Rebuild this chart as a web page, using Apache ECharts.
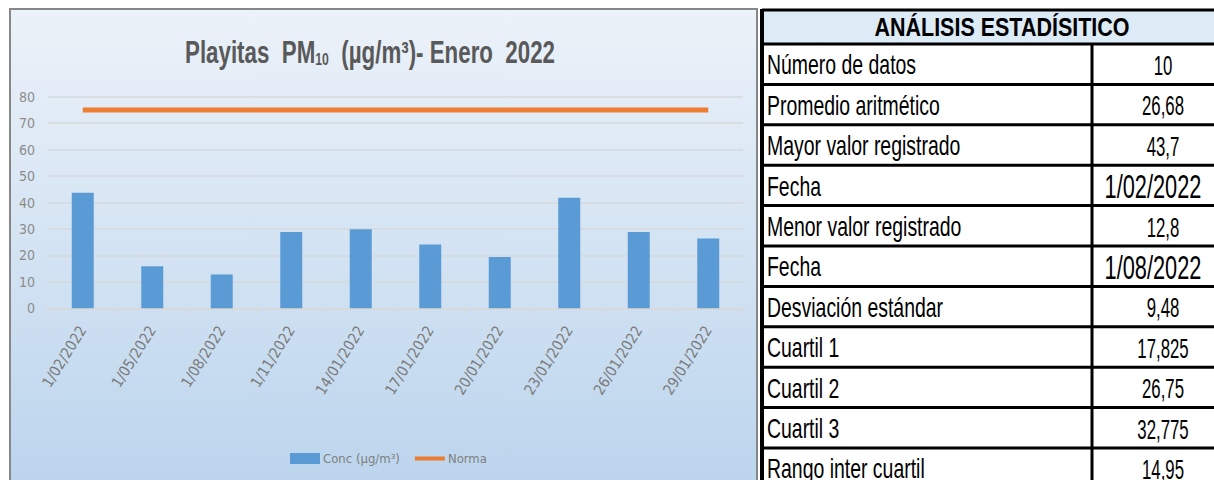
<!DOCTYPE html>
<html>
<head>
<meta charset="utf-8">
<script src="https://cdn.jsdelivr.net/npm/echarts@6/dist/echarts.min.js"></script>
<style>
html,body{margin:0;padding:0;background:#ffffff;}
#c{width:1214px;height:480px;}
</style>
</head>
<body>
<div id="c"></div>
<script>
// ---- data ----
const categories = ['1/02/2022','1/05/2022','1/08/2022','1/11/2022','14/01/2022','17/01/2022','20/01/2022','23/01/2022','26/01/2022','29/01/2022'];
const concValues = [43.7, 15.9, 12.8, 28.8, 29.9, 24.1, 19.4, 41.8, 28.8, 26.4];
const normaValues = [75, 75, 75, 75, 75, 75, 75, 75, 75, 75];
const seriesNames = ['Conc (µg/m³)', 'Norma'];
const titleParts = ['Playitas  PM', '10', '  (µg/m³)- Enero  2022'];
const tableTitle = 'ANÁLISIS ESTADÍSITICO';
const statLabels = ['Número de datos','Promedio aritmético','Mayor valor registrado','Fecha','Menor valor registrado','Fecha','Desviación estándar','Cuartil 1','Cuartil 2','Cuartil 3','Rango inter cuartil'];
const statValues = ['10','26,68','43,7','1/02/2022','12,8','1/08/2022','9,48','17,825','26,75','32,775','14,95'];

// ---- layout / style ----
const NARROW = '"Liberation Sans Narrow","Arial Narrow","DejaVu Sans Condensed","Liberation Sans",sans-serif';
const SANS = '"Liberation Sans",Arial,sans-serif';
const tblLeft = 762, tblRight = 1214, colX = 1092;
const headTop = 9, headBottom = 44, rowH = 40.4;

const graphics = [];
// chart frame with gradient background
graphics.push({
  type: 'rect', z: -10, silent: true,
  shape: { x: 10, y: 9, width: 747, height: 500 },
  style: {
    fill: { type: 'linear', x: 0, y: 0, x2: 0, y2: 1, colorStops: [
      { offset: 0, color: '#ECF2F9' }, { offset: 1, color: '#B9D3EC' } ] },
    stroke: '#878787', lineWidth: 2
  }
});
// chart title
graphics.push({
  type: 'text', z: 10, silent: true, x: 370, y: 50, scaleX: 0.72,
  style: {
    x: 0, y: 0, align: 'center', verticalAlign: 'middle',
    text: '{a|' + titleParts[0] + '}{s|' + titleParts[1] + '}{a|' + titleParts[2] + '}',
    rich: {
      a: { fontFamily: SANS, fontSize: 31, fontWeight: 'bold', fill: '#595959', lineHeight: 36, verticalAlign: 'bottom' },
      s: { fontFamily: SANS, fontSize: 17, fontWeight: 'bold', fill: '#595959', lineHeight: 24, verticalAlign: 'bottom' }
    }
  }
});
// table background
graphics.push({ type: 'rect', z: 5, silent: true, shape: { x: tblLeft, y: headTop, width: tblRight - tblLeft, height: 480 - headTop }, style: { fill: '#ffffff' } });
graphics.push({ type: 'rect', z: 6, silent: true, shape: { x: tblLeft, y: headTop, width: tblRight - tblLeft, height: headBottom - headTop }, style: { fill: '#DDEBF7' } });
// horizontal lines
const hLines = [headTop + 1];
for (let i = 0; i <= statLabels.length; i++) hLines.push(headBottom + i * rowH);
hLines.forEach(function (yy) {
  graphics.push({ type: 'line', z: 8, silent: true, shape: { x1: tblLeft, y1: yy, x2: tblRight, y2: yy }, style: { stroke: '#000', lineWidth: 3 } });
});
// vertical lines
graphics.push({ type: 'line', z: 8, silent: true, shape: { x1: tblLeft, y1: headTop, x2: tblLeft, y2: 480 }, style: { stroke: '#000', lineWidth: 4 } });
graphics.push({ type: 'line', z: 8, silent: true, shape: { x1: colX, y1: headBottom, x2: colX, y2: 480 }, style: { stroke: '#000', lineWidth: 3 } });
// header text
graphics.push({ type: 'text', z: 9, silent: true, x: 1002, y: 27, scaleX: 0.86,
  style: { x: 0, y: 0, text: tableTitle, align: 'center', verticalAlign: 'middle', fontFamily: SANS, fontWeight: 'bold', fontSize: 25, fill: '#000' } });
// rows
statLabels.forEach(function (lab, i) {
  const cy = headBottom + i * rowH + rowH / 2 + 1;
  graphics.push({ type: 'text', z: 9, silent: true, x: 767, y: cy, scaleX: 0.72,
    style: { x: 0, y: 0, text: lab, align: 'left', verticalAlign: 'middle', fontFamily: SANS, fontSize: 27, fill: '#000' } });
  const v = statValues[i];
  const isDate = v.indexOf('/') >= 0;
  graphics.push({ type: 'text', z: 9, silent: true, x: isDate ? 1153 : 1163, y: cy, scaleX: isDate ? 0.64 : 0.6,
    style: { x: 0, y: 0, text: v, align: 'center', verticalAlign: 'middle', fontFamily: SANS, fontSize: isDate ? 34 : 28, fill: '#000' } });
});

const chart = echarts.init(document.getElementById('c'), null, { renderer: 'svg' });
chart.setOption({
  animation: false,
  backgroundColor: 'transparent',
  graphic: graphics,
  grid: { left: 48, right: 471, top: 96.7, bottom: 171.7, containLabel: false },
  legend: {
    left: 285, top: 447, itemWidth: 30, itemHeight: 11, itemGap: 15,
    textStyle: { fontFamily: NARROW, fontSize: 13, color: '#7F7F7F', padding: [0, 0, 0, -2] },
    data: [
      { name: seriesNames[0], icon: 'rect' },
      { name: seriesNames[1], icon: 'path://M0,0L30,0L30,4L0,4Z', itemStyle: { color: '#ED7D31' } }
    ]
  },
  xAxis: {
    type: 'category', data: categories,
    axisLine: { lineStyle: { color: '#D9D9D9', width: 1.5 } },
    axisTick: { show: true, length: 5, lineStyle: { color: '#D9D9D9', width: 1.5 } },
    axisLabel: { interval: 0, rotate: 58, margin: 19, fontFamily: NARROW, fontSize: 15, color: '#7A7A7A' }
  },
  yAxis: {
    type: 'value', min: 0, max: 80, interval: 10,
    axisLine: { show: false }, axisTick: { show: false },
    axisLabel: { margin: 13, fontFamily: NARROW, fontSize: 14, color: '#8C8C8C' },
    splitLine: { lineStyle: { color: '#D6D8DC', width: 1.5 } }
  },
  series: [
    { name: seriesNames[0], type: 'bar', data: concValues, barWidth: 22, itemStyle: { color: '#5B9BD5' } },
    { name: seriesNames[1], type: 'line', data: normaValues, symbol: 'none', z: 5,
      lineStyle: { color: '#ED7D31', width: 5 }, itemStyle: { color: '#ED7D31' } }
  ]
});
</script>
</body>
</html>
